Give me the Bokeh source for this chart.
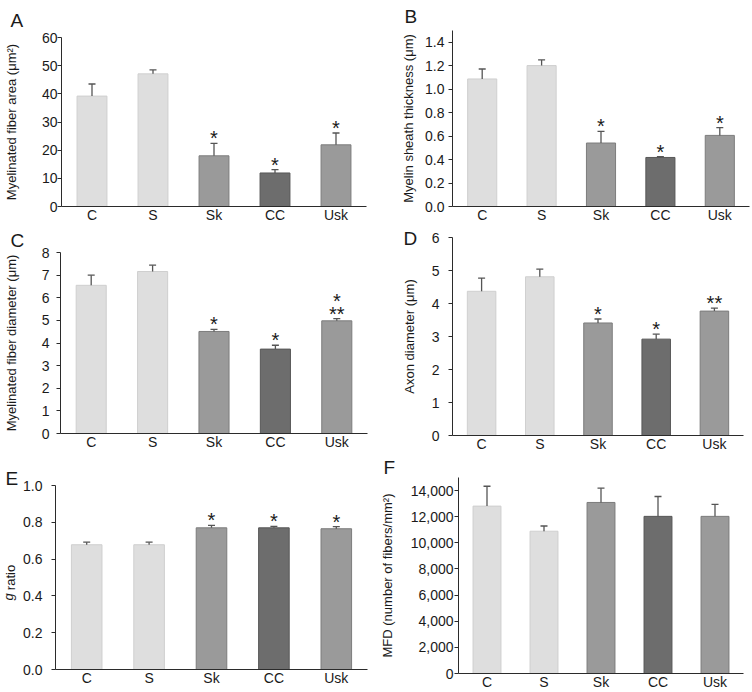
import numpy as np
from bokeh.plotting import figure
from bokeh.layouts import column, row
from bokeh.models import (Range1d, FixedTicker, SingleIntervalTicker,
                          NumeralTickFormatter, Title)
from bokeh.core.properties import value
from bokeh.embed import file_html
from bokeh.resources import INLINE

# ---------------- data ----------------
groups = ["C", "S", "Sk", "CC", "Usk"]

area_mean = [39.2, 47.1, 18.0, 11.9, 21.9]
area_err = [4.3, 1.4, 4.4, 1.2, 4.2]
area_stars = ["", "", "*", "*", "*"]

thick_mean = [1.087, 1.201, 0.541, 0.418, 0.606]
thick_err = [0.085, 0.048, 0.099, 0.006, 0.066]
thick_stars = ["", "", "*", "*", "*"]

diam_mean = [6.55, 7.16, 4.51, 3.73, 4.98]
diam_err = [0.45, 0.28, 0.09, 0.17, 0.10]
diam_stars = ["", "", "*", "*", "**"]
diam_stars2 = ["", "", "", "", "*"]

axon_mean = [4.37, 4.81, 3.41, 2.92, 3.77]
axon_err = [0.40, 0.23, 0.12, 0.15, 0.09]
axon_stars = ["", "", "*", "*", "**"]

g_mean = [0.678, 0.678, 0.770, 0.770, 0.765]
g_err = [0.014, 0.014, 0.013, 0.008, 0.011]
g_stars = ["", "", "*", "*", "*"]

mfd_mean = [12810, 10890, 13090, 12025, 12025]
mfd_err = [1520, 400, 1090, 1520, 915]
mfd_stars = ["", "", "", "", ""]

# ---------------- styles ----------------
bar_fill = ["#dedede", "#dedede", "#9a9a9a", "#6d6d6d", "#9a9a9a"]
bar_line = ["#cfcfcf", "#cfcfcf", "#7c7c7c", "#575757", "#7c7c7c"]
FONT = "Liberation Sans"
AX = "#2b2b2b"
TXT = "#1a1a1a"


def panel(mean, err, stars, ymax, step, fmt, ylabel, letter, letter_off, letter_standoff,
          w, h, left, right, top, bottom, ytick_standoff, label_standoff,
          stars2=None, italic_prefix=None):
    p = figure(width=w, height=h, output_backend="svg", toolbar_location=None,
               x_range=Range1d(0, len(groups)), y_range=Range1d(0, ymax),
               min_border_left=left, min_border_right=right,
               min_border_top=top, min_border_bottom=bottom,
               background_fill_color="white", border_fill_color="white")
    p.frame_align = False
    p.outline_line_color = None
    p.grid.grid_line_color = None

    xs = np.arange(len(groups)) + 0.5
    tops = np.array(mean) + np.array(err)

    p.vbar(x=xs, top=mean, bottom=0, width=0.49, fill_color=bar_fill,
           line_color=bar_line, line_width=1)
    p.segment(x0=xs, y0=mean, x1=xs, y1=tops, line_color="#555555", line_width=1.3)
    p.scatter(x=xs, y=tops, marker="dash", size=7, line_color="#555555", line_width=1.3)
    p.text(x=xs, y=tops, text=stars, text_align="center", text_baseline="alphabetic",
           y_offset=-5, text_font=value(FONT), text_font_size="20px", text_color=TXT)
    if stars2 is not None:
        p.text(x=xs, y=tops, text=stars2, text_align="center", text_baseline="alphabetic",
               y_offset=-18, text_font=value(FONT), text_font_size="20px", text_color=TXT)

    # panel letter
    p.title.text = letter
    p.title.align = "left"
    p.title.offset = letter_off
    p.title.standoff = letter_standoff
    p.title.text_font = FONT
    p.title.text_font_size = "19px"
    p.title.text_font_style = "normal"
    p.title.text_color = TXT

    # x axis
    xa = p.xaxis[0]
    xa.ticker = FixedTicker(ticks=list(xs))
    xa.major_label_overrides = {float(x): g for x, g in zip(xs, groups)}
    xa.axis_label = None
    xa.axis_label_standoff = 0
    xa.major_tick_line_color = None
    xa.major_tick_out = 0
    xa.major_tick_in = 0
    xa.minor_tick_line_color = None
    xa.minor_tick_out = 0
    xa.minor_tick_in = 0
    xa.axis_line_color = AX
    xa.major_label_standoff = 0
    xa.major_label_text_font = FONT
    xa.major_label_text_font_size = "14px"
    xa.major_label_text_color = TXT

    # y axis
    ya = p.yaxis[0]
    ya.ticker = SingleIntervalTicker(interval=step)
    ya.formatter = NumeralTickFormatter(format=fmt)
    ya.minor_tick_line_color = None
    ya.major_tick_out = 4
    ya.major_tick_in = 0
    ya.major_tick_line_color = AX
    ya.axis_line_color = AX
    ya.major_label_standoff = ytick_standoff
    ya.major_label_text_font = FONT
    ya.major_label_text_font_size = "14px"
    ya.major_label_text_color = TXT
    ya.axis_label = ylabel
    ya.axis_label_standoff = label_standoff
    ya.axis_label_text_font = FONT
    ya.axis_label_text_font_size = "13px"
    ya.axis_label_text_font_style = "normal"
    ya.axis_label_text_color = TXT

    if italic_prefix is not None:
        txt, off, so = italic_prefix
        p.add_layout(Title(text=txt, align="left", offset=off, standoff=so,
                           text_font=FONT, text_font_size="13px",
                           text_font_style="italic", text_color=TXT), "left")
    return p


W = 376
pA = panel(area_mean, area_err, area_stars, 60, 10, "0",
           "Myelinated fiber area (μm²)", "A", -51, 14,
           W, 225, 54, 10, 37, 18, 0, 20)
pB = panel(thick_mean, thick_err, thick_stars, 1.5, 0.2, "0.0",
           "Myelin sheath thickness (μm)", "B", -48, 7,
           W, 225, 76, 3, 30, 19, 4, 6)
pC = panel(diam_mean, diam_err, diam_stars, 8, 1, "0",
           "Myelinated fiber diameter (μm)", "C", -50, 4,
           W, 230, 53, 9, 27, 22, 7, 20, stars2=diam_stars2)
pD = panel(axon_mean, axon_err, axon_stars, 6, 1, "0",
           "Axon diameter (μm)", "D", -49, -22,
           W, 230, 76, 9, 12, 20, 9, 12)
pE = panel(g_mean, g_err, g_stars, 1.0, 0.2, "0.0",
           "ratio", "E", -50, -6,
           W, 237, 55, 9, 30, 23, 9, 2, italic_prefix=("g", 69, -31))
pF = panel(mfd_mean, mfd_err, mfd_stars, 15000, 2000, "0,0",
           "MFD (number of fibers/mm²)", "F", -75, -1,
           W, 237, 77, 9, 22, 18, 1, 13)

layout = column(row(pA, pB), row(pC, pD), row(pE, pF))

open("out.html", "w").write(file_html(layout, INLINE))
